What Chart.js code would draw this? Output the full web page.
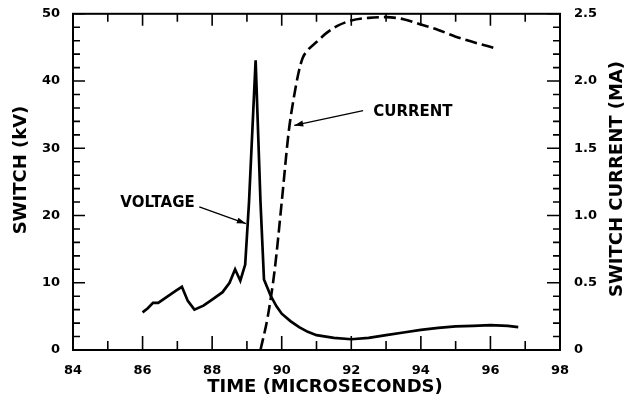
<!DOCTYPE html>
<html><head><meta charset="utf-8">
<script src="https://cdn.jsdelivr.net/npm/chart.js@4.4.1/dist/chart.umd.min.js"></script>
<style>html,body{margin:0;padding:0;background:#fff}#wrap{width:637px;height:398px}</style>
</head><body><div id="wrap"><canvas id="c" width="637" height="398"></canvas></div>
<script>
// ---- data ----
const voltageTime = [86.0, 86.15, 86.3, 86.45, 86.7, 86.95, 87.13, 87.3, 87.49, 87.75, 88.0, 88.3, 88.5, 88.66, 88.81, 88.95, 89.06, 89.25, 89.39, 89.49, 89.68, 89.85, 90.0, 90.25, 90.5, 90.75, 91.0, 91.5, 92.0, 92.5, 93.0, 93.5, 94.0, 94.5, 95.0, 95.5, 96.0, 96.5, 96.8];
const voltageKV   = [5.6, 6.2, 7.0, 7.0, 7.9, 8.8, 9.4, 7.3, 6.0, 6.6, 7.5, 8.6, 10.0, 12.0, 10.3, 12.7, 22.0, 43.1, 22.0, 10.5, 8.1, 6.5, 5.4, 4.3, 3.4, 2.7, 2.2, 1.8, 1.6, 1.8, 2.2, 2.6, 3.0, 3.3, 3.5, 3.6, 3.7, 3.6, 3.4];
const currentTime = [89.39, 89.6, 89.8, 90.0, 90.2, 90.35, 90.5, 90.6, 90.75, 91.0, 91.3, 91.6, 92.0, 92.5, 93.0, 93.5, 94.0, 94.5, 95.0, 95.5, 96.2];
const currentMA   = [0, 0.25, 0.6, 1.1, 1.62, 1.88, 2.08, 2.17, 2.23, 2.29, 2.36, 2.41, 2.45, 2.47, 2.475, 2.46, 2.42, 2.38, 2.33, 2.29, 2.24];
const xTickLabels = [84, 86, 88, 90, 92, 94, 96, 98];
const kvTickLabels = [0, 10, 20, 30, 40, 50];
const maTickLabels = ['0', '0.5', '1.0', '1.5', '2.0', '2.5'];
const seriesNames = ['VOLTAGE', 'CURRENT'];
const axisTitles = {x: 'TIME (MICROSECONDS)', y: 'SWITCH (kV)', y2: 'SWITCH CURRENT (MA)'};

const tickFont = {family: 'DejaVu Sans', weight: 'bold', size: 13};

const framePlugin = {
  id: 'frame',
  afterDraw(chart) {
    const ctx = chart.ctx, a = chart.chartArea;
    const xs = chart.scales.x, yl = chart.scales.y, yr = chart.scales.y2;
    ctx.save();
    ctx.strokeStyle = '#000';
    ctx.lineWidth = 2;
    ctx.strokeRect(a.left, a.top, a.right - a.left, a.bottom - a.top);
    ctx.lineWidth = 1.6;
    ctx.beginPath();
    for (let t = 84; t <= 98; t++) {
      const px = xs.getPixelForValue(t);
      const major = t % 2 === 0;
      ctx.moveTo(px, a.bottom); ctx.lineTo(px, a.bottom - (major ? 14 : 9));
      ctx.moveTo(px, a.top); ctx.lineTo(px, a.top + (major ? 12 : 8));
    }
    for (let v = 0; v <= 50; v += 2) {
      const py = yl.getPixelForValue(v);
      ctx.moveTo(a.left, py); ctx.lineTo(a.left + (v % 10 === 0 ? 12 : 7), py);
    }
    for (let k = 0; k <= 25; k++) {
      const py = yr.getPixelForValue(k / 10);
      ctx.moveTo(a.right, py); ctx.lineTo(a.right - (k % 5 === 0 ? 13 : 7), py);
    }
    ctx.stroke();
    ctx.restore();

    // axis titles
    ctx.save();
    ctx.fillStyle = '#000';
    ctx.font = 'bold 18px "DejaVu Sans"';
    ctx.textAlign = 'center';
    ctx.textBaseline = 'middle';
    ctx.fillText(axisTitles.x, 325, 387);
    ctx.save();
    ctx.translate(21, 170);
    ctx.rotate(-Math.PI / 2);
    ctx.fillText(axisTitles.y, 0, 0);
    ctx.restore();
    ctx.translate(617, 179);
    ctx.rotate(-Math.PI / 2);
    ctx.fillText(axisTitles.y2, 0, 0);
    ctx.restore();

    // annotations
    ctx.save();
    ctx.fillStyle = '#000';
    ctx.strokeStyle = '#000';
    ctx.font = 'bold 15px "DejaVu Sans"';
    ctx.textBaseline = 'middle';
    const arrow = (x1, y1, x2, y2) => {
      ctx.lineWidth = 1.3;
      ctx.beginPath(); ctx.moveTo(x1, y1); ctx.lineTo(x2, y2); ctx.stroke();
      const ang = Math.atan2(y2 - y1, x2 - x1), L = 9, W = 3;
      ctx.beginPath();
      ctx.moveTo(x2, y2);
      ctx.lineTo(x2 - L * Math.cos(ang) + W * Math.sin(ang), y2 - L * Math.sin(ang) - W * Math.cos(ang));
      ctx.lineTo(x2 - L * Math.cos(ang) - W * Math.sin(ang), y2 - L * Math.sin(ang) + W * Math.cos(ang));
      ctx.closePath(); ctx.fill();
    };
    ctx.textAlign = 'right';
    ctx.fillText(seriesNames[0], xs.getPixelForValue(87.5), yl.getPixelForValue(21.9));
    arrow(xs.getPixelForValue(87.63), yl.getPixelForValue(21.3), xs.getPixelForValue(88.97), yl.getPixelForValue(18.8));
    ctx.textAlign = 'left';
    ctx.fillText(seriesNames[1], xs.getPixelForValue(92.63), yr.getPixelForValue(1.772));
    arrow(xs.getPixelForValue(92.34), yr.getPixelForValue(1.78), xs.getPixelForValue(90.36), yr.getPixelForValue(1.67));
    ctx.restore();
  }
};

new Chart(document.getElementById('c'), {
  type: 'line',
  data: {
    datasets: [
      {
        label: seriesNames[0],
        data: voltageTime.map((t, i) => ({x: t, y: voltageKV[i]})),
        yAxisID: 'y',
        borderColor: '#000', borderWidth: 2.7, pointRadius: 0, tension: 0, fill: false
      },
      {
        label: seriesNames[1],
        data: currentTime.map((t, i) => ({x: t, y: currentMA[i]})),
        yAxisID: 'y2',
        borderColor: '#000', borderWidth: 2.6, borderDash: [12, 5], pointRadius: 0,
        cubicInterpolationMode: 'monotone', fill: false
      }
    ]
  },
  options: {
    responsive: false,
    animation: false,
    devicePixelRatio: 1,
    layout: {padding: {top: 10, left: 0, right: 0, bottom: 0}},
    plugins: {legend: {display: false}, tooltip: {enabled: false}},
    scales: {
      x: {
        type: 'linear', min: 84, max: 98,
        afterBuildTicks: s => { s.ticks = xTickLabels.map(v => ({value: v})); },
        ticks: {font: tickFont, color: '#000', padding: 5, maxRotation: 0, autoSkip: false},
        grid: {display: false}, border: {display: false},
        afterFit: s => { s.height = 48; }
      },
      y: {
        type: 'linear', position: 'left', min: 0, max: 50,
        afterBuildTicks: s => { s.ticks = kvTickLabels.map(v => ({value: v})); },
        ticks: {font: tickFont, color: '#000', padding: 5},
        grid: {display: false}, border: {display: false},
        afterFit: s => { s.width = 73; }
      },
      y2: {
        type: 'linear', position: 'right', min: 0, max: 2.5,
        afterBuildTicks: s => { s.ticks = maTickLabels.map(v => ({value: parseFloat(v)})); },
        ticks: {font: tickFont, color: '#000', padding: 6,
          callback: (v) => { const i = maTickLabels.findIndex(l => Math.abs(parseFloat(l) - v) < 1e-6); return i >= 0 ? maTickLabels[i] : ''; }},
        grid: {display: false}, border: {display: false},
        afterFit: s => { s.width = 77; }
      }
    }
  },
  plugins: [framePlugin]
});
</script>
</body></html>
